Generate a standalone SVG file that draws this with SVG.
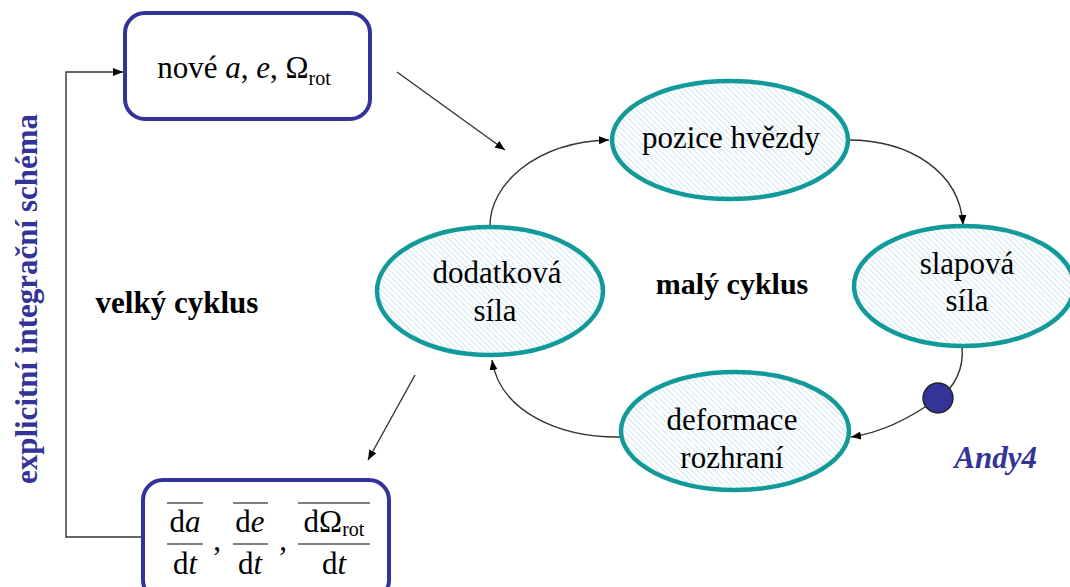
<svg xmlns="http://www.w3.org/2000/svg" width="1070" height="587" viewBox="0 0 1070 587">
<defs>
<pattern id="hatch" width="4" height="4" patternUnits="userSpaceOnUse" patternTransform="rotate(-45)">
<rect width="4" height="4" fill="#ffffff"/>
<line x1="0" y1="0" x2="0" y2="4" stroke="#bfe0ea" stroke-width="1.5"/>
</pattern>
<marker id="arr" viewBox="0 0 10 10" refX="10" refY="5" markerWidth="10" markerHeight="10" markerUnits="userSpaceOnUse" orient="auto">
<path d="M0,1 L10,5 L0,9 z" fill="#000"/>
</marker>
</defs>
<style>
.node ellipse{fill:url(#hatch);stroke:#129a9a;stroke-width:4.5}
.box rect{fill:#fff;stroke:#333399;stroke-width:4}
.t{font-family:'Liberation Serif','Times New Roman',serif;font-size:31px;fill:#000;text-anchor:middle}
.b{font-family:'Liberation Serif','Times New Roman',serif;font-size:31px;font-weight:bold;fill:#000;text-anchor:middle}
.m{font-family:'Liberation Serif','Times New Roman',serif;font-size:31px;fill:#000;text-anchor:middle}
.conn path,.conn line,.conn polyline{fill:none;stroke:#333;stroke-width:1.4}
.blue{fill:#333399}
</style>

<g id="connectors" class="conn">
<polyline points="143,537 66,537 66,72 123,72" marker-end="url(#arr)"/>
<line x1="397" y1="72" x2="505" y2="150" marker-end="url(#arr)"/>
<line x1="415" y1="375" x2="368" y2="460" marker-end="url(#arr)"/>
<path d="M490,227 C489,185 535,142 609,140" marker-end="url(#arr)"/>
<path d="M848,140 C910,140 960,172 963,225" marker-end="url(#arr)"/>
<path d="M962,347 C964,368 955,388 938,398 C915,415 885,432 851,437" marker-end="url(#arr)"/>
<path d="M621,437 C560,438 500,412 492,360" marker-end="url(#arr)"/>
</g>

<g id="box-nove" class="box">
<rect x="125" y="13" width="245" height="106" rx="20"/>
<text class="t" x="244" y="78" font-family="Liberation Serif, serif">nové <tspan font-style="italic">a</tspan>, <tspan font-style="italic">e</tspan>, Ω<tspan font-size="20" dy="7">rot</tspan></text>
</g>

<g id="box-deriv" class="box">
<rect x="143" y="480" width="246" height="120" rx="20"/>
<g class="m" font-family="Liberation Serif, serif">
<line x1="167" y1="503" x2="203" y2="503" stroke="#000" stroke-width="1.2"/>
<text x="185" y="532">d<tspan font-style="italic">a</tspan></text>
<line x1="167" y1="544" x2="203" y2="544" stroke="#000" stroke-width="1.2"/>
<text x="185" y="574">d<tspan font-style="italic">t</tspan></text>
<text x="217" y="550">,</text>
<line x1="233" y1="503" x2="268" y2="503" stroke="#000" stroke-width="1.2"/>
<text x="250" y="532">d<tspan font-style="italic">e</tspan></text>
<line x1="233" y1="544" x2="268" y2="544" stroke="#000" stroke-width="1.2"/>
<text x="250" y="574">d<tspan font-style="italic">t</tspan></text>
<text x="283" y="550">,</text>
<line x1="298" y1="503" x2="370" y2="503" stroke="#000" stroke-width="1.2"/>
<text x="334" y="532">dΩ<tspan font-size="20" dy="4">rot</tspan></text>
<line x1="298" y1="544" x2="370" y2="544" stroke="#000" stroke-width="1.2"/>
<text x="334" y="574">d<tspan font-style="italic">t</tspan></text>
</g>
</g>

<g id="node-pozice" class="node">
<ellipse cx="730" cy="140" rx="118" ry="59"/>
<text class="t" x="731" y="148" font-family="Liberation Serif, serif">pozice hvězdy</text>
</g>

<g id="node-slapova" class="node">
<ellipse cx="964" cy="286" rx="110" ry="60"/>
<text class="t" x="967" y="274" font-family="Liberation Serif, serif">slapová</text>
<text class="t" x="967" y="311" font-family="Liberation Serif, serif">síla</text>
</g>

<g id="node-deformace" class="node">
<ellipse cx="735" cy="431" rx="114" ry="59"/>
<text class="t" x="732" y="430" font-family="Liberation Serif, serif">deformace</text>
<text class="t" x="732" y="468" font-family="Liberation Serif, serif">rozhraní</text>
</g>

<g id="node-dodatkova" class="node">
<ellipse cx="490" cy="291" rx="113" ry="64"/>
<text class="t" x="497" y="283" font-family="Liberation Serif, serif">dodatková</text>
<text class="t" x="495" y="321" font-family="Liberation Serif, serif">síla</text>
</g>

<g id="dot">
<circle cx="938" cy="398" r="15" class="blue" stroke="#222" stroke-width="1.4"/>
</g>

<g id="labels" font-family="Liberation Serif, serif">
<text class="b" x="732" y="294" style="font-size:30px">malý cyklus</text>
<text class="b" x="177" y="313">velký cyklus</text>
<text class="b" x="1037" y="468" style="fill:#333399;font-style:italic;text-anchor:end">Andy4</text>
<text class="b" transform="translate(37,299) rotate(-90)" style="fill:#333399">explicitní integrační schéma</text>
</g>
</svg>
